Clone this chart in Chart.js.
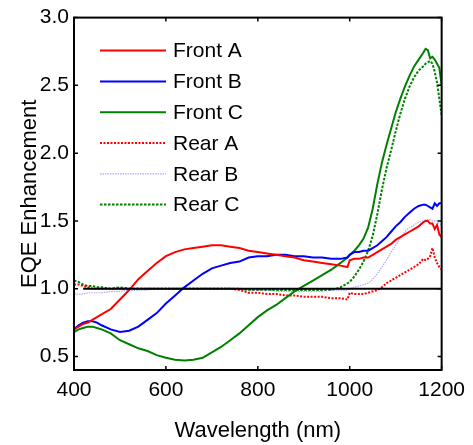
<!DOCTYPE html>
<html><head><meta charset="utf-8">
<script src="https://cdn.jsdelivr.net/npm/chart.js@4/dist/chart.umd.min.js"></script>
<style>html,body{margin:0;padding:0;background:#fff;overflow:hidden}</style>
</head><body>
<canvas id="c" width="473" height="445" style="width:473px;height:445px;display:block"></canvas>
<script>
const wavelength = [400,410,420,430,440,450,460,480,500,520,540,560,580,600,620,640,660,680,700,720,740,760,780,800,820,840,860,880,900,920,940,960,980,995,1000,1010,1020,1030,1040,1050,1060,1070,1080,1090,1100,1110,1120,1130,1140,1150,1160,1165,1170,1175,1180,1185,1190,1195,1200];
const frontA = [0.70,0.72,0.74,0.75,0.77,0.79,0.81,0.85,0.92,0.99,1.07,1.13,1.19,1.24,1.27,1.29,1.30,1.31,1.32,1.32,1.31,1.30,1.28,1.27,1.26,1.25,1.24,1.23,1.21,1.20,1.19,1.18,1.17,1.16,1.21,1.22,1.22,1.23,1.23,1.25,1.27,1.29,1.31,1.33,1.36,1.38,1.40,1.42,1.44,1.46,1.49,1.50,1.50,1.48,1.48,1.44,1.47,1.40,1.38];
const frontB = [0.70,0.73,0.75,0.76,0.76,0.75,0.73,0.70,0.68,0.69,0.72,0.77,0.82,0.89,0.95,1.01,1.06,1.11,1.15,1.17,1.19,1.20,1.23,1.24,1.24,1.25,1.25,1.24,1.24,1.23,1.23,1.22,1.22,1.23,1.25,1.27,1.27,1.28,1.28,1.30,1.32,1.35,1.38,1.42,1.46,1.49,1.53,1.56,1.59,1.61,1.62,1.62,1.61,1.60,1.59,1.63,1.61,1.63,1.63];
const frontC = [0.68,0.70,0.71,0.72,0.72,0.71,0.70,0.67,0.62,0.59,0.56,0.54,0.51,0.49,0.475,0.47,0.475,0.49,0.53,0.57,0.62,0.67,0.73,0.79,0.84,0.88,0.93,0.98,1.02,1.06,1.10,1.14,1.19,1.23,1.25,1.28,1.32,1.37,1.45,1.59,1.77,1.93,2.06,2.18,2.30,2.40,2.49,2.57,2.64,2.69,2.74,2.77,2.76,2.70,2.71,2.69,2.66,2.63,2.50];
const rearA = [1.03,1.03,1.02,1.01,1.00,1.00,1.00,1.00,1.00,1.00,1.00,1.00,1.00,1.00,1.00,1.00,1.00,1.00,1.00,1.00,1.00,0.99,0.97,0.97,0.96,0.96,0.95,0.95,0.94,0.94,0.94,0.93,0.93,0.92,0.97,0.96,0.96,0.96,0.97,0.98,0.99,1.01,1.04,1.06,1.08,1.10,1.12,1.14,1.16,1.18,1.22,1.21,1.22,1.24,1.30,1.23,1.19,1.16,1.14];
const rearB = [0.96,0.96,0.96,0.97,0.97,0.97,0.97,0.98,0.98,0.99,0.99,0.99,1.00,1.00,1.00,1.00,1.00,1.00,1.00,1.00,1.00,1.00,0.99,0.99,0.99,0.98,0.98,0.98,0.98,0.98,0.98,0.99,0.99,0.99,1.00,1.01,1.02,1.03,1.04,1.07,1.11,1.16,1.21,1.27,1.32,1.37,1.42,1.45,1.47,1.49,1.50,1.51,1.51,1.51,1.50,1.50,1.50,1.48,1.47];
const rearC = [1.06,1.05,1.03,1.02,1.02,1.01,1.01,1.00,1.01,1.00,1.00,1.00,1.00,1.00,1.00,1.00,1.00,1.00,1.00,1.00,1.00,1.00,0.99,0.99,0.99,0.99,0.99,0.99,0.99,0.99,0.99,0.99,1.01,1.04,1.05,1.09,1.14,1.20,1.28,1.39,1.55,1.73,1.89,2.02,2.16,2.29,2.40,2.49,2.56,2.61,2.64,2.66,2.67,2.68,2.66,2.60,2.52,2.40,2.28];
const unityX = [420,1200];
const unityY = [1.0,1.0];
const seriesNames = ['Front A','Front B','Front C','Rear A','Rear B','Rear C'];
const xTicks = [400,600,800,1000,1200];
const yTicks = [0.5,1.0,1.5,2.0,2.5,3.0];

const pts = (xs, ys) => xs.map((x,i)=>({x:x,y:ys[i]}));
const FONT = "'Liberation Sans', Arial, sans-serif";

const styles = [
  {c:'#ff0000', w:2, d:[]},
  {c:'#0000ff', w:2, d:[]},
  {c:'#008000', w:2, d:[]},
  {c:'#ff0000', w:2, d:[2,1.5]},
  {c:'rgba(140,140,255,0.75)', w:1.2, d:[1.5,1]},
  {c:'#008000', w:2, d:[2.5,1.5]}
];
const seriesData = [frontA, frontB, frontC, rearA, rearB, rearC];

const datasets = seriesNames.map((n,i)=>({
  label:n, data:pts(wavelength, seriesData[i]), borderColor:styles[i].c, backgroundColor:styles[i].c,
  borderWidth:styles[i].w, borderDash:styles[i].d, pointRadius:0, tension:0, fill:false, order:1
}));
datasets.push({label:'unity', data:pts(unityX, unityY), borderColor:'#000', borderWidth:2, pointRadius:0, order:-1});

const framePlugin = {
  id:'frame',
  afterDatasetsDraw(chart){
    const {ctx, chartArea:a, scales:{x,y}} = chart;
    ctx.save();
    ctx.strokeStyle='#000';
    ctx.lineWidth=2;
    ctx.strokeRect(a.left, a.top, a.right-a.left, a.bottom-a.top);
    ctx.lineWidth=1.5;
    const L = 4;
    ctx.beginPath();
    x.ticks.forEach(t=>{const p=x.getPixelForValue(t.value);
      ctx.moveTo(p,a.bottom); ctx.lineTo(p,a.bottom-L);
      ctx.moveTo(p,a.top); ctx.lineTo(p,a.top+L);});
    y.ticks.forEach(t=>{const p=y.getPixelForValue(t.value);
      ctx.moveTo(a.left,p); ctx.lineTo(a.left+L,p);
      ctx.moveTo(a.right,p); ctx.lineTo(a.right-L,p);});
    ctx.stroke();
    // legend
    const x0 = a.left+26, x1 = a.left+92, tx = a.left+99;
    ctx.font = '21px ' + FONT;
    ctx.textBaseline='middle';
    ctx.fillStyle='#000';
    chart.data.datasets.forEach((ds,i)=>{
      if (i >= seriesNames.length) return;
      const yy = a.top + 33 + i*30.8;
      ctx.strokeStyle = ds.borderColor;
      ctx.lineWidth = ds.borderWidth;
      ctx.setLineDash(ds.borderDash||[]);
      ctx.beginPath(); ctx.moveTo(x0,yy); ctx.lineTo(x1,yy); ctx.stroke();
      ctx.setLineDash([]);
      ctx.fillText(ds.label, tx, yy+1);
    });
    ctx.restore();
  }
};

new Chart(document.getElementById('c'), {
  type:'line',
  data:{datasets:datasets},
  plugins:[framePlugin],
  options:{
    responsive:false, animation:false, devicePixelRatio:1,
    layout:{padding:{top:16,right:28,left:0,bottom:0}},
    plugins:{legend:{display:false}, tooltip:{enabled:false}},
    scales:{
      x:{type:'linear', min:400, max:1200,
        afterBuildTicks:s=>{s.ticks = xTicks.map(v=>({value:v}));},
        afterFit:s=>{s.height=75;},
        grid:{display:false, drawTicks:false}, border:{display:false},
        ticks:{padding:8, color:'#000', font:{family:FONT,size:21}, maxRotation:0, autoSkip:false, callback:v=>String(v)},
        title:{display:true, text:'Wavelength (nm)', color:'#000', font:{family:FONT,size:22}, padding:{top:0,bottom:1}}
      },
      y:{type:'linear', min:0.4, max:3.0,
        afterBuildTicks:s=>{s.ticks = yTicks.map(v=>({value:v}));},
        afterFit:s=>{s.width=74;},
        grid:{display:false, drawTicks:false}, border:{display:false},
        ticks:{padding:5, color:'#000', font:{family:FONT,size:21}, autoSkip:false, callback:v=>v.toFixed(1)},
        title:{display:true, text:'EQE Enhancement', color:'#000', font:{family:FONT,size:22}, padding:{top:17,bottom:0}}
      }
    }
  }
});
</script>
</body></html>
